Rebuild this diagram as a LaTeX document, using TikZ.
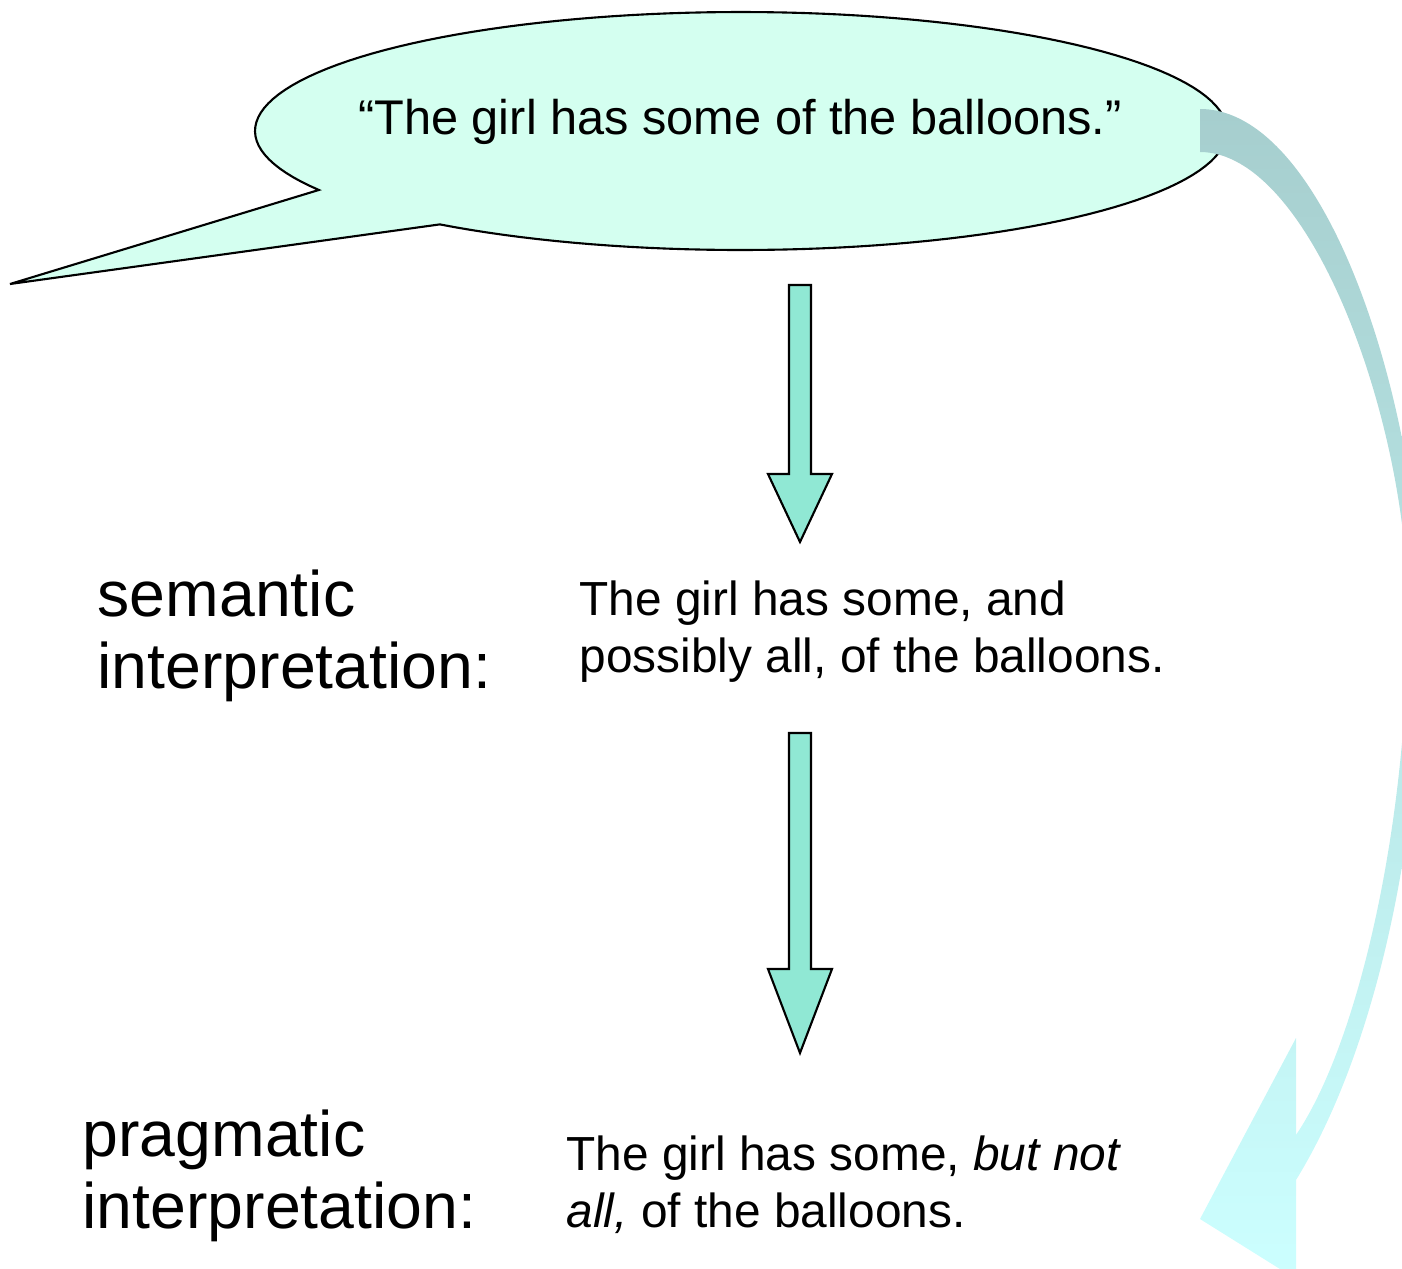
\documentclass[tikz,border=0pt]{standalone}
\usepackage{fontspec}
\setmainfont{Liberation Sans}
\definecolor{bubblefill}{RGB}{212,255,240}
\definecolor{arrowfill}{RGB}{144,232,212}
\definecolor{curvetop}{RGB}{166,206,206}
\definecolor{curvebottom}{RGB}{204,255,255}
\begin{document}
\begin{tikzpicture}[x=0.01cm, y=-0.01cm,
    outline/.style={draw=black, line width=0.6pt, line join=miter},
    heading/.style={font=\fontsize{18.3}{20.2}\selectfont, align=left, anchor=base west, inner sep=0pt},
    reading/.style={font=\fontsize{13.6}{16}\selectfont, align=left, anchor=base west, inner sep=0pt}]
    \useasboundingbox (0,0) rectangle (1402,1269);

    % speech bubble
    \draw[outline, fill=bubblefill] plot[domain=150.3:488.3, samples=150] ({741+486*cos(\x)}, {131+119*sin(\x)})
      -- (10,284) -- cycle;
    \node[font=\fontsize{13.85}{16}\selectfont, anchor=base, inner sep=0pt] (utterance) at (740,134)
      {“The girl has some of the balloons.”};

    % block arrows
    \foreach \ytop/\yneck/\ytip in {285/474/542, 733/969/1053}
      \draw[outline, fill=arrowfill] (789,\ytop) -- (811,\ytop) -- (811,\yneck) -- (832,\yneck)
        -- (800,\ytip) -- (768,\yneck) -- (789,\yneck) -- cycle;

    % base = last line
    \node[heading] (semlabel) at (97,688) {semantic\\interpretation:};
    \node[reading] (semtext) at (579,672) {The girl has some, and\\possibly all, of the balloons.};
    \node[heading] (praglabel) at (82,1228) {pragmatic\\interpretation:};
    \node[reading] (pragtext) at (566,1227) {The girl has some, \textit{but not}\\\textit{all,} of the balloons.};

    % curved arrow, cut by the page edge
    \begin{scope}
      \clip (0,0) rectangle (1402,1269);
      \shade[top color=curvetop, bottom color=curvebottom]
        (1200,109) .. controls (1330,109) and (1425,420) .. (1422,640)
        .. controls (1419,860) and (1370,1060) .. (1296,1180)
        -- (1296,1279) -- (1200,1219) -- (1296,1038) -- (1296,1135)
        .. controls (1360,1040) and (1408,820) .. (1408,612)
        .. controls (1408,420) and (1310,152) .. (1200,152) -- cycle;
    \end{scope}
\end{tikzpicture}
\end{document}
